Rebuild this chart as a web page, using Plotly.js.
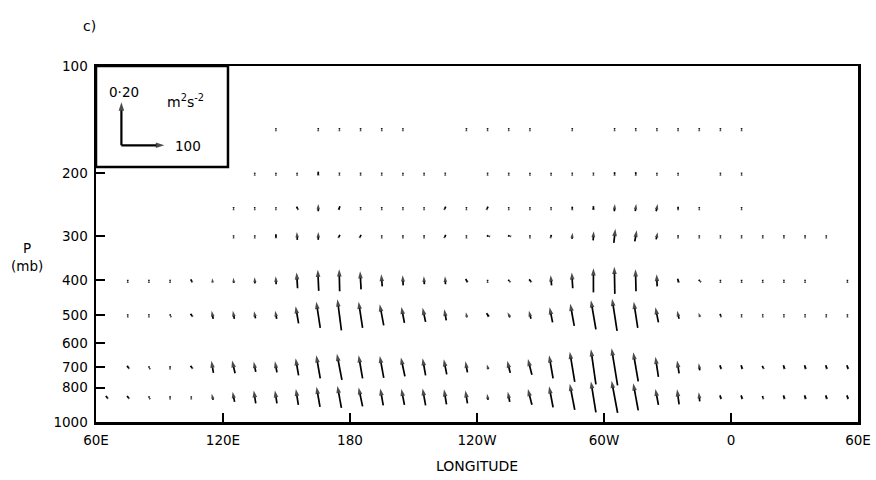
<!DOCTYPE html>
<html><head><meta charset="utf-8">
<script src="https://cdn.plot.ly/plotly-3.0.1.min.js"></script>
<style>html,body{margin:0;padding:0;background:#fff}</style>
</head><body>
<div id="chart" style="width:876px;height:480px"></div>
<script>
// Grid longitudes (degrees east, 60E .. 420 = 60E again)
const LON = [65,75,85,95,105,115,125,135,145,155,165,175,185,195,205,215,225,235,245,255,265,275,285,295,305,315,325,335,345,355,365,375,385,395,405,415];
const LEVELS = [150,200,250,300,400,500,700,850];
const XTICKS = [60,120,180,240,300,360,420];
const XTICKTEXT = ['60E','120E','180','120W','60W','0','60E'];
const YTICKS = [100,200,300,400,500,600,700,800,1000];
const YTICKTEXT = ['100','200','300','400','500','600','700','800','1000'];

// Horizontal component (m2 s-2, ref arrow 100) and vertical component (m2 s-2, ref arrow 0.20)
const fx850 = [-3.5,-3.5,-1.2,0,0,-3.5,-4.7,-4.7,-4.7,-5.8,-8.1,-9.3,-9.3,-7.0,-7.0,-7.0,-5.8,-4.7,-2.3,-4.7,-9.3,-9.3,-11.6,-11.6,-14.0,-11.6,-7.0,-4.7,-2.3,-2.3,-2.3,-1.2,-2.3,-2.3,-2.3,-2.3];
const fz850 = [0.009,0.009,0.005,0.005,0.005,0.028,0.047,0.060,0.060,0.074,0.093,0.102,0.088,0.079,0.074,0.079,0.070,0.060,0.028,0.047,0.074,0.098,0.121,0.144,0.149,0.126,0.074,0.070,0.042,0.014,0.014,0.009,0.014,0.014,0.014,0.014];
const fx700 = [null,-3.5,-1.2,0,-3.5,-4.7,-7.0,-4.7,-4.7,-7.0,-9.3,-11.6,-9.3,-9.3,-9.3,-7.0,-7.0,-4.7,-3.5,-7.0,-9.3,-9.3,-11.6,-11.6,-14.0,-11.6,-7.0,-4.7,-2.3,-2.3,-2.3,-2.3,-2.3,-2.3,-2.3,-2.3];
const fz700 = [null,0.009,0.005,0.005,0.009,0.056,0.060,0.047,0.051,0.079,0.107,0.121,0.107,0.102,0.088,0.079,0.070,0.051,0.023,0.056,0.074,0.107,0.140,0.163,0.172,0.135,0.093,0.060,0.033,0.014,0.014,0.009,0.014,0.014,0.014,0.014];
const fx500 = [null,0,0,-1.2,-3.5,-3.5,-3.5,-3.5,-3.5,-7.0,-9.3,-9.3,-9.3,-9.3,-7.0,-7.0,-4.7,-2.3,-4.7,-5.8,-4.7,-7.0,-9.3,-11.6,-11.6,-9.3,-7.0,-4.7,-3.5,-1.2,0,0,0,0,0,0];
const fz500 = [null,0.005,0.005,0.005,0.009,0.037,0.037,0.033,0.037,0.079,0.121,0.144,0.121,0.098,0.074,0.065,0.051,0.023,0.014,0.023,0.037,0.070,0.102,0.135,0.149,0.121,0.070,0.037,0.019,0.009,0.005,0.005,0.005,0.005,0.005,0.005];
const fx400 = [null,0,0,0,-2.3,-1.2,-1.2,-1.2,-1.2,-2.3,-2.3,-1.2,-2.3,-2.3,-1.2,-1.2,-1.2,-3.5,0,-2.3,-3.5,-2.3,-2.3,0,-1.2,-1.2,-1.2,-2.3,-2.3,0,0,0,0,0,null,0];
const fz400 = [null,0.005,0.005,0.005,0.009,0.019,0.023,0.028,0.037,0.074,0.098,0.102,0.084,0.056,0.047,0.037,0.037,0.012,0.005,0.005,0.009,0.047,0.074,0.112,0.126,0.102,0.056,0.014,0.005,0.005,0.005,0.005,0.005,0.005,null,0.005];
const fx300 = [null,null,null,null,null,null,0,0,0,-1.2,0,2.3,2.3,0,0,0,2.3,0,-3.5,-3.5,0,1.2,1.2,1.2,3.5,4.7,3.5,0,0,0,0,0,0,0,0,null];
const fz300 = [null,null,null,null,null,null,0.005,0.005,0.014,0.037,0.037,0.009,0.009,0.005,0.005,0.005,0.009,0.005,0.002,0.002,0.005,0.009,0.028,0.042,0.065,0.051,0.033,0.005,0.005,0.005,0.005,0.005,0.005,0.005,0.005,null];
const fx250 = [null,null,null,null,null,null,0,0,0,-2.3,0,2.3,0,0,0,0,2.3,0,2.3,0,0,0,0,0,1.2,2.3,3.5,0,0,null,0,null,null,null,null,null];
const fz250 = [null,null,null,null,null,null,0.005,0.005,0.005,0.009,0.033,0.014,0.005,0.005,0.005,0.005,0.009,0.005,0.009,0.005,0.005,0.005,0.009,0.014,0.033,0.033,0.033,0.009,0.005,null,0.005,null,null,null,null,null];
const fx200 = [null,null,null,null,null,null,null,0,0,0,0,0,0,0,0,0,0,null,0,0,0,0,0,0,0,0,0,0,null,0,0,null,null,null,null,null];
const fz200 = [null,null,null,null,null,null,null,0.005,0.005,0.005,0.014,0.005,0.005,0.005,0.005,0.005,0.005,null,0.005,0.005,0.005,0.005,0.005,0.005,0.009,0.009,0.005,0.005,null,0.005,0.005,null,null,null,null,null];
const fx150 = [null,null,null,null,null,null,null,null,0,null,0,0,0,0,0,null,null,0,0,0,0,null,0,null,0,0,0,0,0,0,0,null,null,null,null,null];
const fz150 = [null,null,null,null,null,null,null,null,0.005,null,0.005,0.005,0.005,0.005,0.005,null,null,0.005,0.005,0.005,0.005,null,0.005,null,0.005,0.005,0.005,0.005,0.005,0.005,0.005,null,null,null,null,null];

const FX = {150:fx150,200:fx200,250:fx250,300:fx300,400:fx400,500:fx500,700:fx700,850:fx850};
const FZ = {150:fz150,200:fz200,250:fz250,300:fz300,400:fz400,500:fz500,700:fz700,850:fz850};

// Quiver scale: reference arrows (100 and 0.20) have the same drawn length
const REF_X = 100, REF_Z = 0.20;
const SX = 20.3 / REF_X;     // degrees longitude per unit of horizontal flux
const SZ = 0.1208 / REF_Z;   // decades of pressure per unit of vertical flux

const xs = [], ys = [], sizes = [];
LEVELS.forEach(p => {
  const fxr = FX[p], fzr = FZ[p];
  LON.forEach((lon, k) => {
    const fz = fzr[k], fx = fxr[k];
    if (fz === null || fx === null) return;
    const dx = 0.5 * fx * SX, dz = 0.5 * fz * SZ;
    xs.push(lon - dx, lon + dx, null);
    ys.push(p * Math.pow(10, dz), p * Math.pow(10, -dz), null);
    const L = 43 * Math.hypot(fx / REF_X, fz / REF_Z);
    sizes.push(0, Math.min(7.5, 3 + 0.35 * L), 0);
  });
});

const vec = {
  type: 'scatter', mode: 'lines+markers', x: xs, y: ys,
  line: {color: '#000', width: 1.7},
  marker: {symbol: 'arrow', angleref: 'previous', size: sizes, color: '#000', line: {width: 0}},
  hoverinfo: 'skip', showlegend: false, connectgaps: false
};

// Key arrows
const KEY_LON = 72, KEY_P = 167;
const key = {
  type: 'scatter', mode: 'lines+markers',
  x: [KEY_LON, KEY_LON + REF_X * SX, null, KEY_LON, KEY_LON],
  y: [KEY_P, KEY_P, null, KEY_P, KEY_P / Math.pow(10, REF_Z * SZ)],
  line: {color: '#000', width: 2.2},
  marker: {symbol: 'arrow', angleref: 'previous', size: [0, 9, 0, 0, 9], color: '#000', line: {width: 0}},
  hoverinfo: 'skip', showlegend: false, connectgaps: false
};

const FONT = 'DejaVu Sans, sans-serif';
const layout = {
  width: 876, height: 480,
  margin: {l: 96, r: 18, t: 66, b: 58},
  paper_bgcolor: '#fff', plot_bgcolor: '#fff',
  showlegend: false,
  font: {family: FONT, size: 13, color: '#000'},
  xaxis: {
    range: [60, 420], tickvals: XTICKS, ticktext: XTICKTEXT,
    ticks: 'inside', ticklen: 9, tickwidth: 2, tickcolor: '#000',
    showline: true, linewidth: 2.5, linecolor: '#000', mirror: true,
    showgrid: false, zeroline: false, fixedrange: true, ticklabelstandoff: 4,
    tickfont: {family: FONT, size: 13.5, color: '#000'}
  },
  yaxis: {
    type: 'log', range: [3, 2], tickvals: YTICKS, ticktext: YTICKTEXT,
    ticks: 'inside', ticklen: 9, tickwidth: 2, tickcolor: '#000',
    showline: true, linewidth: 2.5, linecolor: '#000', mirror: true,
    showgrid: false, zeroline: false, fixedrange: true, ticklabelstandoff: 3,
    tickfont: {family: FONT, size: 13.5, color: '#000'}
  },
  shapes: [
    {type: 'rect', xref: 'paper', yref: 'paper', x0: 0, x1: 0.1732, y0: 0.7163, y1: 1,
     line: {color: '#000', width: 2.5}, fillcolor: 'rgba(0,0,0,0)'}
  ],
  annotations: [
    {text: 'c)', xref: 'paper', yref: 'paper', x: -0.0085, y: 1.113, xanchor: 'center', yanchor: 'middle', showarrow: false, font: {family: FONT, size: 14}},
    {text: 'P<br>(mb)', xref: 'paper', yref: 'paper', x: -0.0906, y: 0.4635, xanchor: 'center', yanchor: 'middle', showarrow: false, font: {family: FONT, size: 13.5}},
    {text: 'LONGITUDE', xref: 'paper', yref: 'paper', x: 0.5, y: -0.1236, xanchor: 'center', yanchor: 'middle', showarrow: false, font: {family: FONT, size: 14}},
    {text: '0·20', xref: 'paper', yref: 'paper', x: 0.0367, y: 0.9256, xanchor: 'center', yanchor: 'middle', showarrow: false, font: {family: FONT, size: 13.5}},
    {text: 'm<sup>2</sup>s<sup>-2</sup>', xref: 'paper', yref: 'paper', x: 0.118, y: 0.9017, xanchor: 'center', yanchor: 'middle', showarrow: false, font: {family: FONT, size: 14}},
    {text: '100', xref: 'paper', yref: 'paper', x: 0.101, y: 0.7753, xanchor: 'left', yanchor: 'middle', showarrow: false, font: {family: FONT, size: 13.5}}
  ]
};

Plotly.newPlot('chart', [vec, key], layout, {staticPlot: true, displayModeBar: false});
</script>
</body></html>
